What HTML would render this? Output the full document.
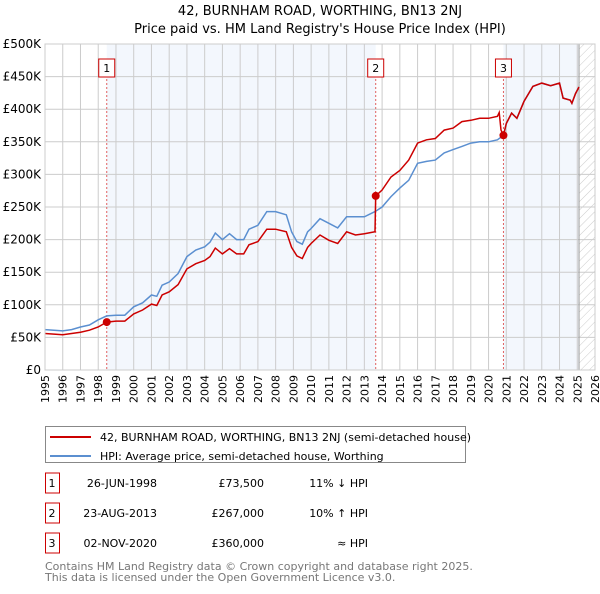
<!DOCTYPE html>
<html><head><meta charset="utf-8"><style>
body{margin:0;background:#fff;font-family:"DejaVu Sans","Liberation Sans",sans-serif;}
svg text{font-family:"DejaVu Sans","Liberation Sans",sans-serif;}
</style></head><body>
<svg id="c" width="600" height="590" xmlns="http://www.w3.org/2000/svg">
<defs><pattern id="hatch" width="6" height="6" patternUnits="userSpaceOnUse" patternTransform="rotate(45)"><line x1="0" y1="0" x2="0" y2="6" stroke="#ccc" stroke-width="1"/></pattern></defs>
<text x="320" y="15" text-anchor="middle" font-size="13">42, BURNHAM ROAD, WORTHING, BN13 2NJ</text>
<text x="320" y="33" text-anchor="middle" font-size="13">Price paid vs. HM Land Registry's House Price Index (HPI)</text>
<g id="plot"></g>
<g>
<rect x="45.5" y="426.5" width="420" height="36" fill="#fff" stroke="#888"/>
<line x1="50" y1="437" x2="91" y2="437" stroke="#cc0000" stroke-width="2"/>
<text x="100" y="441" font-size="11">42, BURNHAM ROAD, WORTHING, BN13 2NJ (semi-detached house)</text>
<line x1="50" y1="456" x2="91" y2="456" stroke="#5b8fd0" stroke-width="2"/>
<text x="100" y="460" font-size="11">HPI: Average price, semi-detached house, Worthing</text>
</g>
<g id="table" font-size="11"></g>
<text x="45" y="570" font-size="11" fill="#777">Contains HM Land Registry data © Crown copyright and database right 2025.</text>
<text x="45" y="581" font-size="11" fill="#777">This data is licensed under the Open Government Licence v3.0.</text>
</svg>
<script>
const hpiYears=[1995,1995.5,1996,1996.5,1997,1997.5,1998,1998.48,1999,1999.5,2000,2000.5,2001,2001.3,2001.6,2002,2002.5,2003,2003.5,2004,2004.3,2004.6,2005,2005.4,2005.8,2006.2,2006.5,2007,2007.5,2008,2008.6,2008.9,2009.2,2009.5,2009.8,2010,2010.5,2011,2011.5,2012,2012.5,2013,2013.6,2014,2014.5,2015,2015.5,2016,2016.5,2017,2017.5,2018,2018.5,2019,2019.5,2020,2020.5,2020.84,2021,2021.3,2021.6,2022,2022.5,2023,2023.5,2024,2024.2,2024.6,2024.7,2024.9,2025.1];
const hpiValues=[62,61,60,62,66,69,77,83,84,84,97,103,115,113,130,135,148,174,184,189,196,210,200,209,200,200,216,222,243,243,238,212,197,193,212,217,232,225,218,235,235,235,243,250,266,279,291,317,320,322,333,338,343,348,350,350,353,360,378,394,386,412,435,440,436,440,417,414,409,424,434];
const propYears=[1995,1995.5,1996,1996.5,1997,1997.5,1998,1998.48,1999,1999.5,2000,2000.5,2001,2001.3,2001.6,2002,2002.5,2003,2003.5,2004,2004.3,2004.6,2005,2005.4,2005.8,2006.2,2006.5,2007,2007.5,2008,2008.6,2008.9,2009.2,2009.5,2009.8,2010,2010.5,2011,2011.5,2012,2012.5,2013,2013.6,2013.64,2014,2014.5,2015,2015.5,2016,2016.5,2017,2017.5,2018,2018.5,2019,2019.5,2020,2020.5,2020.6,2020.7,2020.84,2021,2021.3,2021.6,2022,2022.5,2023,2023.5,2024,2024.2,2024.6,2024.7,2024.9,2025.1];
const propValues=[56,55,54,56,58,61,66,73.5,75,75,86,92,101,99,115,120,131,155,163,168,174,187,178,186,178,178,192,197,216,216,212,188,175,171,188,194,207,199,194,212,207,209,212,267,276,296,306,322,348,353,355,368,371,381,383,386,386,389,395,368,360,378,394,386,412,435,440,436,440,417,414,409,424,434];
const saleYears=[1998.48,2013.64,2020.84];
const salePrices=[73.5,267,360];
const saleLabels=["1","2","3"];
const saleDates=["26-JUN-1998","23-AUG-2013","02-NOV-2020"];
const salePriceText=["£73,500","£267,000","£360,000"];
const saleHpiText=["11% ↓ HPI","10% ↑ HPI","≈ HPI"];
const yTicks=[0,50,100,150,200,250,300,350,400,450,500];
const yTickLabels=["£0","£50K","£100K","£150K","£200K","£250K","£300K","£350K","£400K","£450K","£500K"];
const xTicks=[1995,1996,1997,1998,1999,2000,2001,2002,2003,2004,2005,2006,2007,2008,2009,2010,2011,2012,2013,2014,2015,2016,2017,2018,2019,2020,2021,2022,2023,2024,2025,2026];

const NS="http://www.w3.org/2000/svg";
const X0=45,X1=595,Y0=370,Y1=44;
const xS=y=>X0+(y-1995)/(2026-1995)*(X1-X0);
const yS=v=>Y0-v/500*(Y0-Y1);
const g=document.getElementById('plot');
function mk(tag,at,parent){const e=document.createElementNS(NS,tag);for(const k in at)e.setAttribute(k,at[k]);(parent||g).appendChild(e);return e;}

const s1=mk('rect',{x:xS(saleYears[0]),y:Y1,width:xS(saleYears[1])-xS(saleYears[0]),height:Y0-Y1,fill:'#eef3fc',opacity:0.7});


const s2=mk('rect',{x:xS(saleYears[2]),y:Y1,width:xS(2025.1)-xS(saleYears[2]),height:Y0-Y1,fill:'#eef3fc',opacity:0.7});


const hz=mk('rect',{x:xS(2025.1),y:Y1,width:X1-xS(2025.1),height:Y0-Y1,fill:'url(#hatch)'});



xTicks.forEach((t,i)=>{
  const l=mk('line',{x1:xS(t),x2:xS(t),y1:Y1,y2:Y0,stroke:'#ccc','stroke-width':1});
  
  
  const tx=mk('text',{x:0,y:0,'font-size':11,'text-anchor':'end',transform:`translate(${xS(t)+4},${Y0+5}) rotate(-90)`});
  tx.textContent=t;
  
  
});
yTicks.forEach((t,i)=>{
  const l=mk('line',{x1:X0,x2:X1,y1:yS(t),y2:yS(t),stroke:'#ccc','stroke-width':1});
  
  
  const tx=mk('text',{x:X0-4,y:yS(t)+4,'font-size':12,'text-anchor':'end'});
  tx.textContent=yTickLabels[i];
  
  
});
const bl=mk('line',{x1:xS(2025.1),x2:xS(2025.1),y1:Y1,y2:Y0,stroke:'#999','stroke-width':1});



saleYears.forEach((y,i)=>{
  const l=mk('line',{x1:xS(y),x2:xS(y),y1:Y1+15,y2:Y0,stroke:'#e06060','stroke-width':1,'stroke-dasharray':'2,2'});
  
  
});
const hp=mk('path',{d:hpiYears.map((y,i)=>(i?'L':'M')+xS(y).toFixed(1)+','+yS(hpiValues[i]).toFixed(1)).join(''),fill:'none',stroke:'#5b8fd0','stroke-width':1.5});


const pp=mk('path',{d:propYears.map((y,i)=>(i?'L':'M')+xS(y).toFixed(1)+','+yS(propValues[i]).toFixed(1)).join(''),fill:'none',stroke:'#cc0000','stroke-width':1.5});


saleYears.forEach((y,i)=>{
  const c=mk('circle',{cx:xS(y),cy:yS(salePrices[i]),r:4,fill:'#cc0000'});
  
  
  const r=mk('rect',{x:xS(y)-8,y:59,width:16,height:18,fill:'#fff',stroke:'#cc0000'});
  
  
  const t=mk('text',{x:xS(y),y:72,'font-size':11,'text-anchor':'middle'});
  t.textContent=saleLabels[i];
  
  
});
const fr=mk('rect',{x:X0,y:Y1,width:X1-X0,height:Y0-Y1,fill:'none',stroke:'#ccc'});



const tb=document.getElementById('table');
const rowY=[483,513,543];
saleLabels.forEach((s,i)=>{
  const yy=rowY[i];
  const r=mk('rect',{x:45.5,y:yy-10,width:14,height:20,fill:'#fff',stroke:'#cc0000'},tb);
  
  
  const cells=[[52,s,'middle'],[157,saleDates[i],'end'],[264,salePriceText[i],'end'],[368,saleHpiText[i],'end']];
  cells.forEach(c=>{
    const t=mk('text',{x:c[0],y:yy+4,'text-anchor':c[2]},tb);
    t.textContent=c[1];
    
    
  });
});
</script>
</body></html>
